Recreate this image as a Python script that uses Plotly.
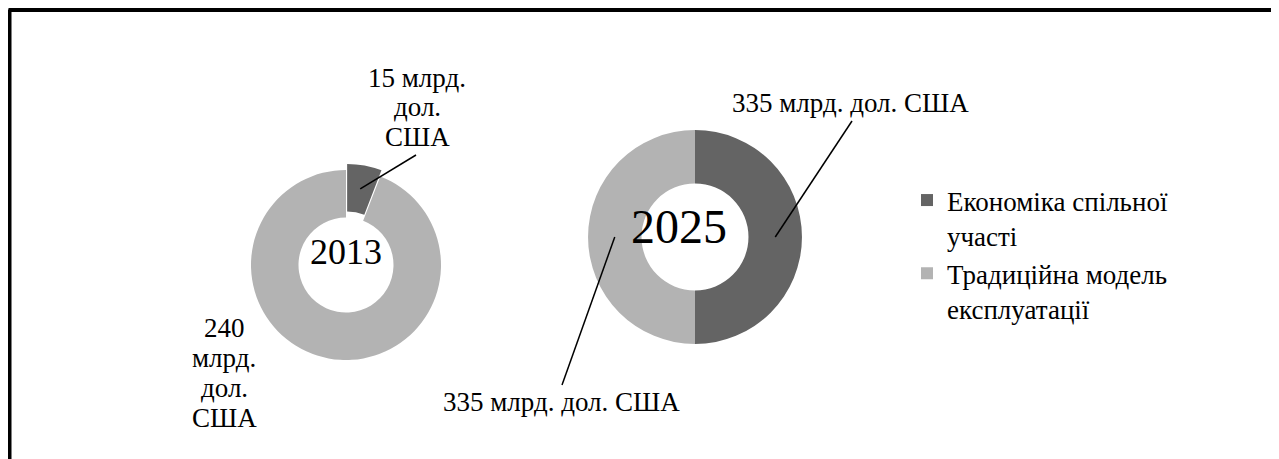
import math
import plotly.graph_objects as go

# ---------------- data ----------------
categories = ["Економіка спільної<br>участі", "Традиційна модель<br>експлуатації"]
years = ["2013", "2025"]
values_2013 = [15, 240]
values_2025 = [335, 335]
unit_short = ["млрд.", "дол.", "США"]
colors = ["#646464", "#b3b3b3"]

# the page places the figure 8px from the top-left corner (body margin)
OX, OY = 8, 8
W, H = 1279 - OX, 459 - OY
FONT = "Liberation Serif, Times New Roman, serif"
LABEL_SIZE = 27

# ---------------- layout geometry (window pixels) ----------------
pie_specs = [
    dict(year=years[0], values=values_2013, cx=346, cy=265, r=95, hole=0.5,
         pull=[0.065, 0.0], year_xy=(346, 252), year_size=36),
    dict(year=years[1], values=values_2025, cx=695, cy=237, r=107, hole=0.5,
         pull=[0.0, 0.0], year_xy=(679, 226), year_size=48),
]
# label placement per (pie, slice): text centre, line layout, leader start (or None)
label_specs = {
    (0, 0): dict(x=417, y=78, split=True, first_sep=" ", spacing=29.5, leader=(416, 155)),
    (0, 1): dict(x=224, y=328, split=True, first_sep=None, spacing=30, leader=None),
    (1, 0): dict(x=851, y=103, split=False, spacing=0, leader=(852, 121)),
    (1, 1): dict(x=561, y=402, split=False, spacing=0, leader=(562, 385)),
}


def px_to_paper(x, y):
    return (x - OX) / W, 1 - (y - OY) / H


fig = go.Figure()
annotations = []
shapes = []

for pi, spec in enumerate(pie_specs):
    maxpull = max(spec["pull"])
    half = spec["r"] * (1 + maxpull)
    cxf, cyf = spec["cx"] - OX, spec["cy"] - OY
    dom_x = [(cxf - half) / W, (cxf + half) / W]
    dom_y = [1 - (cyf + half) / H, 1 - (cyf - half) / H]
    fig.add_trace(go.Pie(
        labels=categories,
        values=spec["values"],
        hole=spec["hole"],
        pull=spec["pull"],
        sort=False,
        direction="clockwise",
        rotation=0,
        marker=dict(colors=colors, line=dict(width=0)),
        textinfo="none",
        hoverinfo="label+value",
        domain=dict(x=dom_x, y=dom_y),
        showlegend=(pi == 0),
    ))

    # year in centre
    yx, yy = px_to_paper(*spec["year_xy"])
    annotations.append(dict(x=yx, y=yy, xref="paper", yref="paper", text=spec["year"],
                            showarrow=False, font=dict(family=FONT, size=spec["year_size"], color="black"),
                            xanchor="center", yanchor="middle"))

    total = sum(spec["values"])
    cum = 0
    for si, v in enumerate(spec["values"]):
        theta = math.radians(360 * (cum + v / 2) / total)
        cum += v
        ls = label_specs[(pi, si)]
        if ls["split"]:
            if ls["first_sep"] is None:
                lines = [str(v)] + unit_short
            else:
                lines = [f"{v} {unit_short[0]}"] + unit_short[1:]
        else:
            lines = [f"{v} " + " ".join(unit_short)]
        for li, line in enumerate(lines):
            ax_, ay_ = px_to_paper(ls["x"], ls["y"] + li * ls["spacing"])
            annotations.append(dict(x=ax_, y=ay_, xref="paper", yref="paper", text=line,
                                    showarrow=False, font=dict(family=FONT, size=LABEL_SIZE, color="black"),
                                    xanchor="center", yanchor="middle"))
        if ls["leader"] is not None:
            rr = spec["r"] * (1 + spec["hole"]) / 2 + spec["pull"][si] * spec["r"]
            tx = spec["cx"] + rr * math.sin(theta)
            ty = spec["cy"] - rr * math.cos(theta)
            x0, y0 = px_to_paper(*ls["leader"])
            x1, y1 = px_to_paper(tx, ty)
            shapes.append(dict(type="line", xref="paper", yref="paper", x0=x0, y0=y0, x1=x1, y1=y1,
                               line=dict(color="black", width=1.5)))

# outer frame (left / top / right edges; bottom lies outside the picture)
shapes.append(dict(type="line", xref="paper", yref="paper", x0=0.5 / W, x1=0.5 / W, y0=-0.2, y1=1 - 1.5 / H,
                   line=dict(color="black", width=6)))
shapes.append(dict(type="line", xref="paper", yref="paper", x0=0.5 / W, x1=(W - 0.5) / W,
                   y0=1 - 1.5 / H, y1=1 - 1.5 / H, line=dict(color="black", width=5)))
shapes.append(dict(type="line", xref="paper", yref="paper", x0=(W - 0.5) / W, x1=(W - 0.5) / W,
                   y0=-0.2, y1=1 - 1.5 / H, line=dict(color="black", width=6)))

lx, ly = px_to_paper(907, 176)
fig.update_layout(
    width=W, height=H,
    margin=dict(l=0, r=0, t=0, b=0),
    paper_bgcolor="white", plot_bgcolor="white",
    annotations=annotations,
    shapes=shapes,
    legend=dict(x=lx, y=ly, xanchor="left", yanchor="top", valign="top",
                font=dict(family=FONT, size=LABEL_SIZE, color="black"),
                bgcolor="rgba(0,0,0,0)", traceorder="normal"),
)

fig.write_html("out.html")
